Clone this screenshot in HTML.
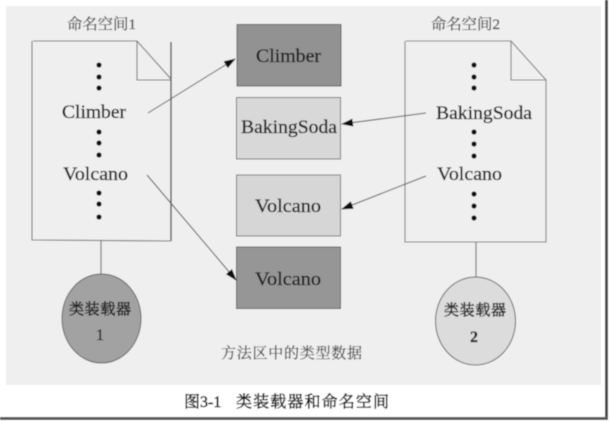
<!DOCTYPE html>
<html><head><meta charset="utf-8"><style>
html,body{margin:0;padding:0;background:#fff;width:610px;height:421px;overflow:hidden}
svg{display:block}
.s{font-family:"Liberation Serif","Noto Serif CJK SC",serif;fill:#1c1c1c;stroke:#1c1c1c;stroke-width:.3}
.c{font-family:"Liberation Serif","Noto Serif CJK SC",serif;fill:#444;stroke:#444;stroke-width:.2}
</style></head><body>
<svg width="610" height="421" viewBox="0 0 610 421" xmlns="http://www.w3.org/2000/svg">
<defs>
<filter id="b" x="-2%" y="-2%" width="104%" height="104%"><feGaussianBlur stdDeviation="0.45"/></filter>
<marker id="a" markerWidth="12" markerHeight="8" refX="11" refY="4" orient="auto" markerUnits="userSpaceOnUse"><path d="M0 0L12 4L0 8z" fill="#111"/></marker>
</defs>
<g filter="url(#b)">
<rect width="610" height="421" fill="#fff"/>
<rect x="6" y="6" width="595" height="379" fill="#efefef"/>
<rect x="605" y="0" width="3" height="418" fill="#444"/>
<rect x="0" y="417" width="608" height="3" fill="#555"/>

<!-- left doc -->
<path d="M33 41H137L171 79M137 41V80H171M171 241L32 240V41" fill="none" stroke="#777" stroke-width="1.1"/>
<path d="M171 42V241" stroke="#555" stroke-width="1.4" fill="none"/>
<!-- right doc -->
<path d="M406 41H511L546 80V242L405 242V41M511 41V80H546" fill="none" stroke="#808080" stroke-width="1.1"/>

<!-- stems -->
<path d="M101 241V275" stroke="#777" stroke-width="1.2"/>
<path d="M476 242V277" stroke="#777" stroke-width="1.2"/>

<!-- boxes -->
<rect x="237" y="24.500" width="104" height="61.500" fill="#929292" stroke="#666"/>
<rect x="236.500" y="97.500" width="104" height="61.500" fill="#d8d8d8" stroke="#777"/>
<rect x="236.500" y="175" width="104" height="61" fill="#d6d6d6" stroke="#777"/>
<rect x="236.500" y="247" width="104" height="61.500" fill="#969696" stroke="#666"/>

<!-- circles -->
<ellipse cx="101.500" cy="318.500" rx="39.500" ry="44.500" fill="#a2a2a2" stroke="#666"/>
<ellipse cx="475.500" cy="321" rx="40" ry="44" fill="#dcdcdc" stroke="#666"/>

<!-- dots -->
<g fill="#111">
<circle cx="99" cy="65" r="2.600"/><circle cx="99" cy="77" r="2.600"/><circle cx="99" cy="88" r="2.600"/>
<circle cx="99" cy="132" r="2.600"/><circle cx="99" cy="143" r="2.600"/><circle cx="99" cy="155" r="2.600"/>
<circle cx="99" cy="193" r="2.600"/><circle cx="99" cy="204" r="2.600"/><circle cx="99" cy="217" r="2.600"/>
<circle cx="474" cy="65" r="2.600"/><circle cx="474" cy="77" r="2.600"/><circle cx="474" cy="88" r="2.600"/>
<circle cx="474" cy="132" r="2.600"/><circle cx="474" cy="144" r="2.600"/><circle cx="474" cy="156" r="2.600"/>
<circle cx="474" cy="194" r="2.600"/><circle cx="474" cy="206" r="2.600"/><circle cx="474" cy="218" r="2.600"/>
</g>

<!-- arrows -->
<g stroke="#555" stroke-width="1" fill="none" marker-end="url(#a)">
<path d="M148 113L235 59"/>
<path d="M147 175L236 280"/>
<path d="M426 113L342 124"/>
<path d="M426 176L342 209"/>
</g>

<!-- labels -->
<text class="c" x="67" y="29" font-size="15" textLength="69" lengthAdjust="spacingAndGlyphs">命名空间1</text>
<text class="c" x="431" y="29" font-size="15" textLength="69" lengthAdjust="spacingAndGlyphs">命名空间2</text>
<text class="s" x="62" y="118" font-size="19" textLength="64" lengthAdjust="spacingAndGlyphs">Climber</text>
<text class="s" x="63" y="180" font-size="19" textLength="65" lengthAdjust="spacingAndGlyphs">Volcano</text>
<text class="s" x="436" y="119" font-size="19" textLength="96" lengthAdjust="spacingAndGlyphs">BakingSoda</text>
<text class="s" x="437" y="180" font-size="19" textLength="65" lengthAdjust="spacingAndGlyphs">Volcano</text>
<text class="s" x="256" y="62" font-size="19" textLength="65" lengthAdjust="spacingAndGlyphs">Climber</text>
<text class="s" x="241" y="133" font-size="19" textLength="96" lengthAdjust="spacingAndGlyphs">BakingSoda</text>
<text class="s" x="255" y="212" font-size="19" textLength="66" lengthAdjust="spacingAndGlyphs">Volcano</text>
<text class="s" x="255" y="285" font-size="19" textLength="66" lengthAdjust="spacingAndGlyphs">Volcano</text>
<text class="s" x="69" y="314" font-size="15" textLength="62" lengthAdjust="spacing" style="stroke-width:.5">类装载器</text>
<text class="s" x="96" y="340" font-size="16">1</text>
<text class="s" x="444" y="315" font-size="15" textLength="62" lengthAdjust="spacing" style="stroke-width:.5">类装载器</text>
<text class="s" x="470" y="342" font-size="16" font-weight="bold">2</text>
<text class="c" x="221" y="358" font-size="15" textLength="141" lengthAdjust="spacing">方法区中的类型数据</text>
<text class="s" x="184" y="407" font-size="16" style="fill:#000;stroke:#000;stroke-width:.45">图3-1</text>
<text class="s" x="236" y="407" font-size="16" textLength="153" lengthAdjust="spacing" style="fill:#000;stroke:#000;stroke-width:.45">类装载器和命名空间</text>
</g>
</svg>
</body></html>
